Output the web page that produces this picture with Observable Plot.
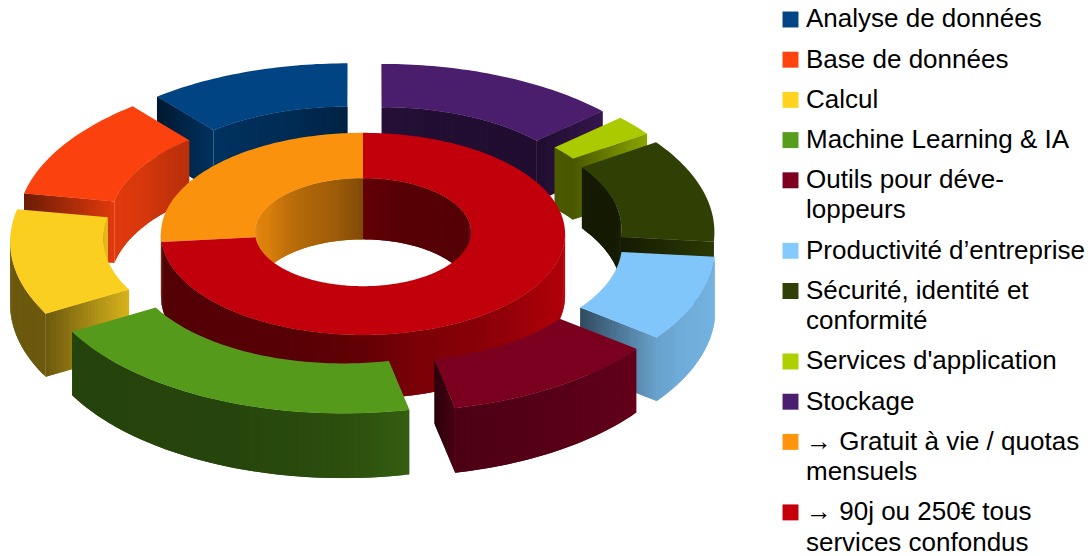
<!DOCTYPE html>
<html lang="fr">
<head>
<meta charset="utf-8">
<script src="https://cdn.jsdelivr.net/npm/d3@7"></script>
<script src="https://cdn.jsdelivr.net/npm/@observablehq/plot@0.6"></script>
<style>
html,body{margin:0;padding:0;background:#fff}
svg{display:block}
</style>
</head>
<body>
<div id="chart"></div>
<script>
// Outer ring, clockwise from 12 o'clock
const outerNames = ["Stockage","Services d'application","Sécurité, identité et conformité","Productivité d’entreprise","Outils pour développeurs","Machine Learning & IA","Calcul","Base de données","Analyse de données"];
const outerValues = [6,1,5,4,5,9,5,5,5];
const outerColors = ["#4b1f6f","#aecf00","#314004","#83caff","#7e0021","#579d1c","#ffd320","#ff420e","#004586"];
// Inner ring, clockwise from 12 o'clock
const innerNames = ["→ 90j ou 250€ tous services confondus","→ Gratuit à vie / quotas mensuels"];
const innerValues = [33,12];
const innerColors = ["#c5000b","#ff950e"];
// Legend
const legendLabels = [
  ["Analyse de données"],["Base de données"],["Calcul"],["Machine Learning & IA"],
  ["Outils pour déve-","loppeurs"],["Productivité d’entreprise"],["Sécurité, identité et","conformité"],
  ["Services d'application"],["Stockage"],["→ Gratuit à vie / quotas","mensuels"],["→ 90j ou 250€ tous","services confondus"]
];
const legendColors = ["#004586","#ff420e","#ffd320","#579d1c","#7e0021","#83caff","#314004","#aecf00","#4b1f6f","#ff950e","#c5000b"];
// Light response by facing direction (degrees clockwise from the back of the chart)
const lightAngles = [0,40,60,90,120,135,150,165,180,200,250,280,320,360];
const lightLevels = [.3,.6,.85,.9,.85,.75,.68,.62,.5,.44,.42,.42,.35,.3];

const W = 1090, H = 556, CX = 362.5, CY = 231;
const tilt = .5, focal = 8500, depth = 62, rad = Math.PI / 180;
const light = d3.scaleLinear(lightAngles, lightLevels);
const shade = (c, k) => { const q = d3.rgb(c); return d3.rgb(q.r*k, q.g*k, q.b*k).formatHex(); };
const norm = a => ((a % 360) + 360) % 360;

function project(X, Y, drop) {
  const s = focal / (focal + Y);
  return {x: X * s, y: (-Y * tilt + drop) * s};
}

function sliceFaces(s) {
  const faces = [];
  const at = (r, a, drop) => project(s.ox + r*Math.sin(a*rad), s.oy + r*Math.cos(a*rad), drop);
  const n = Math.max(2, Math.ceil((s.a1 - s.a0) / 1));
  const angs = d3.range(n + 1).map(i => s.a0 + (s.a1 - s.a0) * i / n);
  const face = (pts, tone) => faces.push({pts, tone});
  const cut = (a) => {
    const m = 24, span = s.R - s.r;
    for (let i = 0; i < m; i++) {
      // each strip runs on under the next one so that no seam shows
      const r0 = s.r + span * i / m, r1 = s.r + span * Math.min(m, i + 2) / m;
      const k0 = light(norm(a + 180)), k1 = light(norm(a));
      const k = k0 + (k1 - k0) * (i + .5) / m;
      face([at(r0,a,0),at(r1,a,0),at(r1,a,depth),at(r0,a,depth)], shade(s.color, k));
    }
  };
  if (s.cuts) {
    if (Math.sin(s.a0*rad) < -1e-6) cut(s.a0);
    if (Math.sin(s.a1*rad) > 1e-6) cut(s.a1);
  }
  const wall = (r, test, facing) => {
    for (let i = 0; i < n; i++) {
      const a = angs[i], m = (a + angs[i+1]) / 2;
      if (!test(m)) continue;
      const b = angs[Math.min(n, i + 2)];
      // the strip runs on under the next one; stop it where the wall turns away
      const e = test(b) ? b : angs[i+1];
      face([at(r,a,0),at(r,e,0),at(r,e,depth),at(r,a,depth)], shade(s.color, light(norm(facing(m)))));
    }
  };
  wall(s.r, m => Math.cos(m*rad) > 0, m => m + 180);
  wall(s.R, m => Math.cos(m*rad) < 0 && (s.cuts ? m > 96 : true), m => m);
  face([...angs.map(a => at(s.R,a,0)), ...angs.slice().reverse().map(a => at(s.r,a,0))], shade(s.color, .98));
  return faces;
}

function ring(values, colors, names, r, R, explode, cuts) {
  const total = d3.sum(values);
  let acc = 0;
  return values.map((v, i) => {
    const a0 = acc / total * 360; acc += v;
    const a1 = acc / total * 360, mid = (a0 + a1) / 2, e = explode[i] || 0;
    return {name: names[i], color: colors[i], a0, a1, r, R, cuts,
      ox: e * Math.sin(mid*rad), oy: e * Math.cos(mid*rad),
      order: Math.cos(mid*rad) * (e ? 1 : .001)};
  });
}

const outerExplode = [47,47,47,49,47,47,47,47,47];
const slices = [
  ...ring(innerValues, innerColors, innerNames, 108, 202, [0,0], false),
  ...ring(outerValues, outerColors, outerNames, 213, 306, outerExplode, true)
].sort((p, q) => q.order - p.order);

const rows = [];
let id = 0;
for (const s of slices) for (const f of sliceFaces(s)) {
  id++;
  for (const p of f.pts) rows.push({x: p.x, y: p.y, id, tone: f.tone});
}

// Legend rows
const swatch = [], lines = [];
let ly = 18.5 - CY;
legendLabels.forEach((ls, i) => {
  swatch.push({x: 790 - CX, y: ly + .5, tone: legendColors[i]});
  ls.forEach((t, j) => lines.push({x: 805.5 - CX, y: ly + j * 30.3, text: t}));
  ly += 40.2 + 30.3 * (ls.length - 1);
});

const chart = Plot.plot({
  width: W, height: H, margin: 0,
  x: {domain: [-CX, W - CX], range: [0, W], axis: null},
  y: {domain: [-CY, H - CY], range: [0, H], axis: null},
  color: {type: "identity"},
  style: {background: "#fff", fontFamily: "'Liberation Sans'"},
  marks: [
    Plot.line(rows, {x: "x", y: "y", z: "id", fill: "tone", stroke: "none", curve: "linear-closed"}),
    Plot.dot(swatch, {x: "x", y: "y", fill: "tone", symbol: "square", r: 9}),
    Plot.text(lines, {x: "x", y: "y", text: "text", textAnchor: "start", fontSize: 26, fill: "#000", lineAnchor: "middle"})
  ]
});
document.getElementById("chart").append(chart);
</script>
</body>
</html>
